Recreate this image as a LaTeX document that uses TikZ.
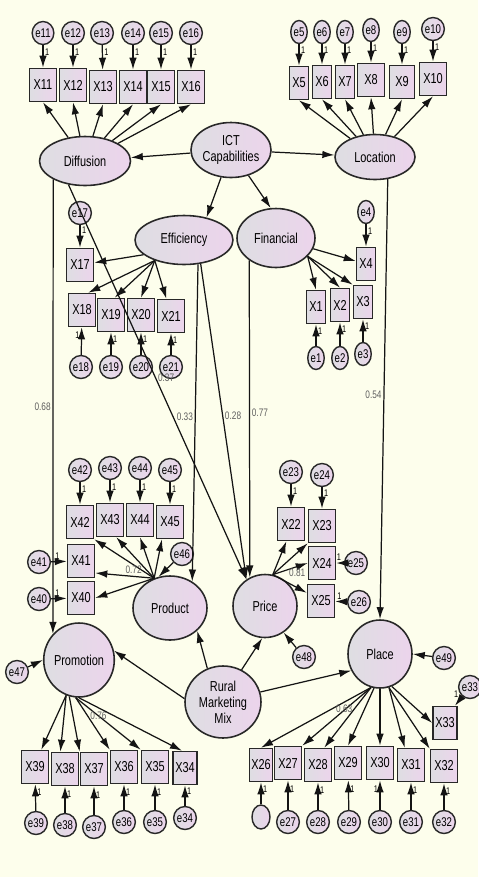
\documentclass[tikz,border=0pt]{standalone}
\usepackage{fontspec}
\newfontfamily\semfont{Liberation Sans}[FakeStretch=0.76]
\usetikzlibrary{arrows.meta,shapes.geometric}
\definecolor{bgCream}{RGB}{253,254,236}
\definecolor{semGrey}{RGB}{222,222,226}
\definecolor{semPink}{RGB}{236,212,236}
\definecolor{semLine}{RGB}{40,40,40}
\definecolor{semInk}{RGB}{20,20,20}
\definecolor{coefGrey}{RGB}{95,95,95}
\tikzset{
  latent/.style={ellipse, draw=semLine, line width=0.9pt, left color=semGrey, right color=semPink, inner sep=0pt, align=center, font=\semfont\fontsize{8.2}{9}\selectfont},
  indic/.style={rectangle, draw=semLine, line width=0.9pt, left color=semGrey, right color=semPink, minimum width=0.54cm, minimum height=0.66cm, inner sep=0pt, font=\semfont\fontsize{8.2}{9}\selectfont},
  narrow/.style={indic, minimum width=0.38cm},
  errnode/.style={ellipse, draw=semLine, line width=0.8pt, left color=semGrey, right color=semPink, minimum width=0.33cm, minimum height=0.46cm, inner sep=0pt, font=\semfont\fontsize{7.2}{7.5}\selectfont},
  flow/.style={-{Latex[length=2.4mm,width=1.5mm]}, line width=0.7pt, draw=semInk},
  one/.style={font=\semfont\fontsize{5.5}{5.5}\selectfont, inner sep=0.8pt},
  coef/.style={font=\semfont\fontsize{6.2}{6.2}\selectfont, text=coefGrey, inner sep=1pt}
}
\begin{document}
\begin{tikzpicture}[x=0.02cm, y=-0.02cm]
\useasboundingbox[fill=bgCream] (0,0) rectangle (478,877);
% second order factor and ICT dimensions
\node[latent, minimum width=1.48cm, minimum height=1.10cm] (ict) at (231,150) {ICT\\Capabilities};
\node[latent, minimum width=1.82cm, minimum height=0.98cm] (diff) at (85,161) {Diffusion};
\node[latent, minimum width=1.60cm, minimum height=0.90cm] (loc) at (375,157) {Location};
\node[latent, minimum width=1.96cm, minimum height=0.98cm] (eff) at (184,240) {Efficiency};
\node[latent, minimum width=1.56cm, minimum height=1.18cm] (fin) at (276,238) {Financial};
% marketing mix
\node[latent, minimum width=1.48cm, minimum height=1.28cm] (prod) at (170,608) {Product};
\node[latent, minimum width=1.28cm, minimum height=1.26cm] (price) at (265,606) {Price};
\node[latent, minimum width=1.40cm, minimum height=1.48cm] (promo) at (79,660) {Promotion};
\node[latent, minimum width=1.28cm, minimum height=1.36cm] (place) at (380,654) {Place};
\node[latent, minimum width=1.52cm, minimum height=1.44cm] (rmm) at (223,702) {Rural\\Marketing\\Mix};

% Diffusion items
\node[indic] (X11) at (43,85) {X11};
\node[indic] (X12) at (73,85) {X12};
\node[indic] (X13) at (103,87) {X13};
\node[indic] (X14) at (133,87) {X14};
\node[indic] (X15) at (161,87) {X15};
\node[indic] (X16) at (191,87) {X16};
\node[errnode] (e11) at (43,33) {e11};
\node[errnode] (e12) at (73,33) {e12};
\node[errnode] (e13) at (102,33) {e13};
\node[errnode] (e14) at (133,33) {e14};
\node[errnode] (e15) at (161,33) {e15};
\node[errnode] (e16) at (191,33) {e16};

% Location items
\node[narrow] (X5) at (299,83) {X5};
\node[narrow] (X6) at (322,82) {X6};
\node[narrow] (X7) at (345,82) {X7};
\node[indic] (X8) at (371,80) {X8};
\node[indic, minimum width=0.50cm] (X9) at (402,82) {X9};
\node[indic] (X10) at (433,79) {X10};
\node[errnode] (e5) at (299,32) {e5};
\node[errnode] (e6) at (322,32) {e6};
\node[errnode] (e7) at (345,32) {e7};
\node[errnode] (e8) at (371,30) {e8};
\node[errnode] (e9) at (402,32) {e9};
\node[errnode] (e10) at (433,29) {e10};

% Efficiency items
\node[indic] (X17) at (80,265) {X17};
\node[indic] (X18) at (82,310) {X18};
\node[indic] (X19) at (111,315) {X19};
\node[indic] (X20) at (141,315) {X20};
\node[indic] (X21) at (171,316) {X21};
\node[errnode] (e17) at (80,213) {e17};
\node[errnode] (e18) at (81,367) {e18};
\node[errnode] (e19) at (111,367) {e19};
\node[errnode] (e20) at (141,367) {e20};
\node[errnode] (e21) at (171,367) {e21};

% Financial items
\node[narrow] (X4) at (366,264) {X4};
\node[narrow] (X1) at (316,307) {X1};
\node[narrow] (X2) at (340,305) {X2};
\node[narrow] (X3) at (363,302) {X3};
\node[errnode] (e4) at (366,212) {e4};
\node[errnode] (e1) at (316,358) {e1};
\node[errnode] (e2) at (340,358) {e2};
\node[errnode] (e3) at (363,354) {e3};

% Product items
\node[indic] (X42) at (80,522) {X42};
\node[indic] (X43) at (110,520) {X43};
\node[indic] (X44) at (140,520) {X44};
\node[indic] (X45) at (170,522) {X45};
\node[indic] (X41) at (81,561) {X41};
\node[indic] (X40) at (81,598) {X40};
\node[errnode] (e42) at (80,470) {e42};
\node[errnode] (e43) at (110,468) {e43};
\node[errnode] (e44) at (140,468) {e44};
\node[errnode] (e45) at (170,470) {e45};
\node[errnode] (e41) at (39,562) {e41};
\node[errnode] (e40) at (39,599) {e40};
\node[errnode] (e46) at (182,554) {e46};

% Price items
\node[indic] (X22) at (291,524) {X22};
\node[indic] (X23) at (322,526) {X23};
\node[indic] (X24) at (322,563) {X24};
\node[indic] (X25) at (321,601) {X25};
\node[errnode] (e23) at (291,472) {e23};
\node[errnode] (e24) at (322,475) {e24};
\node[errnode] (e25) at (356,563) {e25};
\node[errnode] (e26) at (359,602) {e26};
\node[errnode] (e48) at (304,657) {e48};

% Place items
\node[errnode] (e49) at (444,658) {e49};
\node[errnode] (e33) at (470,687) {e33};
\node[indic, minimum width=0.48cm] (X33) at (445,723) {X33};
\node[indic, minimum width=0.46cm] (X26) at (261,765) {X26};
\node[indic] (X27) at (288,763) {X27};
\node[indic] (X28) at (318,765) {X28};
\node[indic] (X29) at (348,763) {X29};
\node[indic] (X30) at (380,763) {X30};
\node[indic] (X31) at (411,765) {X31};
\node[indic] (X32) at (444,766) {X32};
\node[errnode, minimum width=0.36cm, minimum height=0.48cm] (u26) at (261,817) {};
\node[errnode] (e27) at (288,822) {e27};
\node[errnode] (e28) at (318,822) {e28};
\node[errnode] (e29) at (349,822) {e29};
\node[errnode] (e30) at (380,822) {e30};
\node[errnode] (e31) at (411,822) {e31};
\node[errnode] (e32) at (444,822) {e32};

% Promotion items
\node[errnode] (e47) at (17,672) {e47};
\node[indic] (X39) at (35,767) {X39};
\node[indic] (X38) at (65,769) {X38};
\node[indic] (X37) at (94,769) {X37};
\node[indic] (X36) at (124,767) {X36};
\node[indic] (X35) at (155,767) {X35};
\node[indic, minimum width=0.48cm] (X34) at (185,768) {X34};
\node[errnode] (e39) at (36,823) {e39};
\node[errnode] (e38) at (65,825) {e38};
\node[errnode] (e37) at (94,827) {e37};
\node[errnode] (e36) at (124,822) {e36};
\node[errnode] (e35) at (155,822) {e35};
\node[errnode] (e34) at (185,818) {e34};

% ICT paths
\draw[flow] (ict) -- (diff);
\draw[flow] (ict) -- (loc);
\draw[flow] (ict) -- (eff.45);
\draw[flow] (ict) -- (fin.100);

% loadings
\draw[flow] (diff) -- (X11.south);
\draw[flow] (diff) -- (X12.south);
\draw[flow] (diff) -- (X13.south);
\draw[flow] (diff) -- (X14.south);
\draw[flow] (diff) -- (X15.south);
\draw[flow] (diff) -- (X16.south);
\draw[flow] (loc) -- (X5.south);
\draw[flow] (loc) -- (X6.south);
\draw[flow] (loc) -- (X7.south);
\draw[flow] (loc) -- (X8.south);
\draw[flow] (loc) -- (X9.south);
\draw[flow] (loc) -- (X10.south);
\draw[flow] (eff.200) -- (X17);
\draw[flow] (eff.215) -- (X18.70);
\draw[flow] (eff.215) -- (X19.78);
\draw[flow] (eff.215) -- (X20.north);
\draw[flow] (eff.215) -- (X21.105);
\draw[flow] (fin) -- (X4);
\draw[flow] (fin.330) -- (X1.north);
\draw[flow] (fin.330) -- (X2.north);
\draw[flow] (fin.330) -- (X3.north west);
\draw[flow] (prod.118) -- (X42.south east);
\draw[flow] (prod.118) -- (X43.290);
\draw[flow] (prod.118) -- (X44.south);
\draw[flow] (prod.118) -- (X45.245);
\draw[flow] (prod.118) -- node[coef, above, pos=0.35] {0.72} (X41.320);
\draw[flow] (prod.118) -- (X40.east);
\draw[flow] (price.76) -- (X22.255);
\draw[flow] (price.76) -- (X23.south west);
\draw[flow] (price.76) -- node[coef, below, pos=0.7] {0.81} (X24.west);
\draw[flow] (price.76) -- (X25.150);
\draw[flow] (place.255) -- (X26.north);
\draw[flow] (place.255) -- (X27.north east);
\draw[flow] (place.255) -- node[coef, left, pos=0.35] {0.63} (X28.70);
\draw[flow] (place.260) -- (X29.north);
\draw[flow] (place.270) -- (X30.north);
\draw[flow] (place.285) -- (X31.110);
\draw[flow] (place.285) -- (X32.north west);
\draw[flow] (place.290) -- (X33.west);
\draw[flow] (promo.250) -- (X39.70);
\draw[flow] (promo.250) -- (X38.105);
\draw[flow] (promo.255) -- (X37.north west);
\draw[flow] (promo.265) -- (X36.north west);
\draw[flow] (promo.265) -- node[coef, pos=0.35] {0.76} (X35.north west);
\draw[flow] (promo.270) -- (X34.100);

% structural paths
\draw[flow] (diff.210) -- node[coef, left, pos=0.5] {0.68} (promo.135);
\draw[flow] (diff.235) -- node[coef, right, pos=0.49] {0.37} (price.125);
\draw[flow] (eff.300) -- node[coef, left, pos=0.48] {0.33} (prod.50);
\draw[flow] (eff.305) -- node[coef, right, pos=0.48] {0.28} (price.125);
\draw[flow] (fin.220) -- node[coef, right, pos=0.48] {0.77} (price.118);
\draw[flow] (loc.300) -- node[coef, left, pos=0.49] {0.54} (place.north);
\draw[flow] (rmm.175) -- (promo.15);
\draw[flow] (rmm.115) -- (prod.320);
\draw[flow] (rmm.60) -- (price.265);
\draw[flow] (rmm.15) -- (place.210);

% disturbances
\draw[flow] (e46) -- (prod.110);
\draw[flow] (e47) -- (promo.west);
\draw[flow] (e48) -- (price.305);
\draw[flow] (e49) -- (place.east);

% error terms
\draw[flow] (e11) -- node[one, right, pos=0.3] {1} (X11);
\draw[flow] (e12) -- node[one, right, pos=0.3] {1} (X12);
\draw[flow] (e13) -- node[one, right, pos=0.3] {1} (X13);
\draw[flow] (e14) -- node[one, right, pos=0.3] {1} (X14);
\draw[flow] (e15) -- node[one, right, pos=0.3] {1} (X15);
\draw[flow] (e16) -- node[one, right, pos=0.3] {1} (X16);
\draw[flow] (e5) -- node[one, right, pos=0.3] {1} (X5);
\draw[flow] (e6) -- node[one, right, pos=0.3] {1} (X6);
\draw[flow] (e7) -- node[one, right, pos=0.3] {1} (X7);
\draw[flow] (e8) -- node[one, right, pos=0.3] {1} (X8);
\draw[flow] (e9) -- node[one, right, pos=0.3] {1} (X9);
\draw[flow] (e10) -- node[one, right, pos=0.3] {1} (X10);
\draw[flow] (e17) -- node[one, right, pos=0.2] {1} (X17);
\draw[flow] (e18) -- node[one, left, pos=0.7] {1} (X18);
\draw[flow] (e19) -- node[one, right, pos=0.7] {1} (X19);
\draw[flow] (e20) -- node[one, right, pos=0.7] {1} (X20);
\draw[flow] (e21) -- node[one, right, pos=0.7] {1} (X21);
\draw[flow] (e4) -- node[one, right, pos=0.3] {1} (X4);
\draw[flow] (e1) -- node[one, right, pos=0.7] {1} (X1);
\draw[flow] (e2) -- node[one, right, pos=0.7] {1} (X2);
\draw[flow] (e3) -- node[one, right, pos=0.7] {1} (X3);
\draw[flow] (e42) -- node[one, right, pos=0.3] {1} (X42);
\draw[flow] (e43) -- node[one, right, pos=0.3] {1} (X43);
\draw[flow] (e44) -- node[one, right, pos=0.3] {1} (X44);
\draw[flow] (e45) -- node[one, right, pos=0.3] {1} (X45);
\draw[flow] (e41) -- node[one, above, pos=0.4] {1} (X41);
\draw[flow] (e40) -- node[one, above, pos=0.4] {1} (X40);
\draw[flow] (e23) -- node[one, right, pos=0.3] {1} (X22);
\draw[flow] (e24) -- node[one, right, pos=0.3] {1} (X23);
\draw[flow] (e25) -- node[one, above, pos=0.65] {1} (X24);
\draw[flow] (e26) -- node[one, above, pos=0.65] {1} (X25);
\draw[flow] (e33) -- node[one, above left, pos=0.3] {1} (X33.60);
\draw[flow] (u26) -- node[one, right, pos=0.7] {1} (X26);
\draw[flow] (e27) -- node[one, right, pos=0.7] {1} (X27);
\draw[flow] (e28) -- node[one, right, pos=0.7] {1} (X28);
\draw[flow] (e29) -- node[one, right, pos=0.7] {1} (X29);
\draw[flow] (e30) -- node[one, left, pos=0.7] {1} (X30);
\draw[flow] (e31) -- node[one, right, pos=0.7] {1} (X31);
\draw[flow] (e32) -- node[one, right, pos=0.7] {1} (X32);
\draw[flow] (e39) -- node[one, right, pos=0.7] {1} (X39);
\draw[flow] (e38) -- node[one, right, pos=0.7] {1} (X38);
\draw[flow] (e37) -- node[one, right, pos=0.7] {1} (X37);
\draw[flow] (e36) -- node[one, right, pos=0.7] {1} (X36);
\draw[flow] (e35) -- node[one, right, pos=0.7] {1} (X35);
\draw[flow] (e34) -- node[one, right, pos=0.7] {1} (X34);
\end{tikzpicture}
\end{document}
